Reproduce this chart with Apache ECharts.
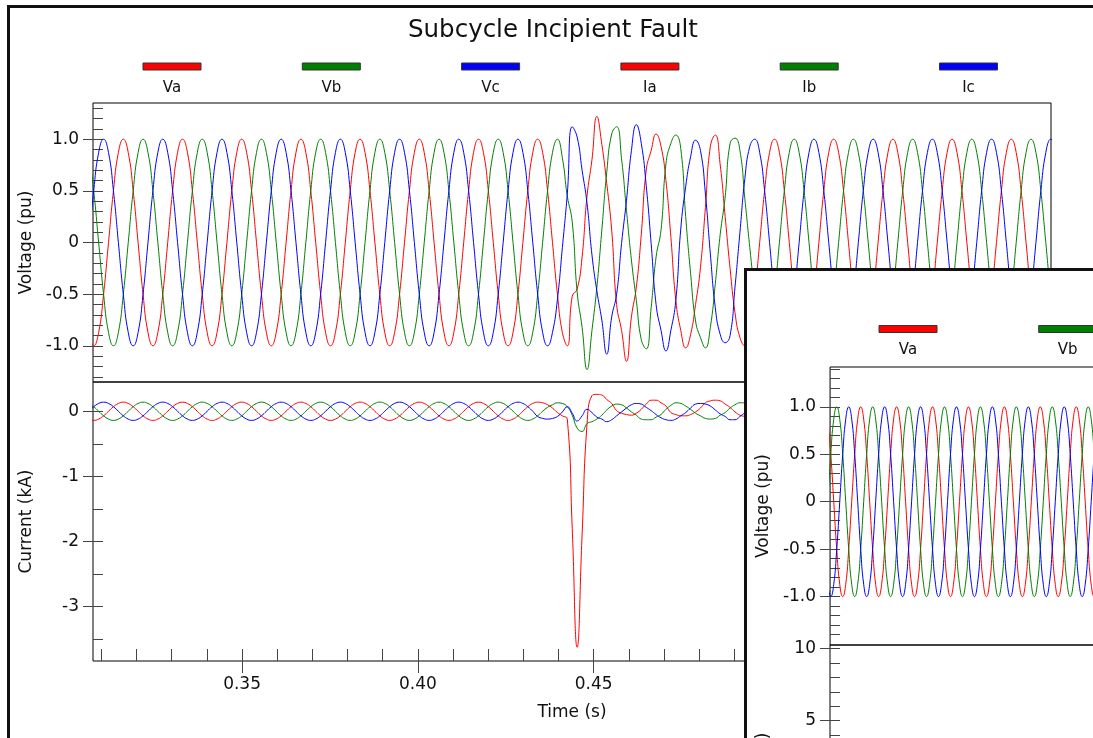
<!DOCTYPE html>
<html>
<head>
<meta charset="utf-8">
<title>Subcycle Incipient Fault</title>
<script src="https://cdn.jsdelivr.net/npm/echarts@6/dist/echarts.min.js"></script>
<style>
  html, body { margin: 0; padding: 0; width: 1093px; height: 738px; overflow: hidden; background: #fff; }
  #c1 { position: absolute; left: 0; top: 0; width: 1093px; height: 738px; }
  #frame1 { position: absolute; left: 7px; top: 5px; width: 1300px; height: 900px;
            border-left: 3px solid #111; border-top: 3px solid #111; pointer-events: none; }
  #w2 { position: absolute; left: 744px; top: 268px; width: 1300px; height: 900px;
        border-left: 3px solid #111; border-top: 3px solid #111; background: #fff; }
  #c2 { position: absolute; left: 0; top: 0; width: 1093px; height: 738px; }
</style>
</head>
<body>
<div id="c1"></div>
<div id="frame1"></div>
<div id="w2"><div id="c2"></div></div>
<script>
// ---------------------------------------------------------------------------
// Recorded quantities
// ---------------------------------------------------------------------------
const seriesNames  = ['Va', 'Vb', 'Vc', 'Ia', 'Ib', 'Ic'];
const seriesColors = ['#ff0000', '#008000', '#0000ff', '#ff0000', '#008000', '#0000ff'];

// recorder sample clock: 12 samples per power cycle
const sampleStep  = 0.0014032;   // s
const sampleStart = 0.3064;      // s, first sample of the main record
const sampleStart2 = -0.00108;   // s, first sample of the second record

// phase voltages (pu), one power cycle per row
const va = [
  -0.87,-1,-0.87,-0.5,0,0.5,0.87,1,0.87,0.5,0,-0.5,
  -0.87,-1,-0.87,-0.5,0,0.5,0.87,1,0.87,0.5,0,-0.5,
  -0.87,-1,-0.87,-0.5,0,0.5,0.87,1,0.87,0.5,0,-0.5,
  -0.87,-1,-0.87,-0.5,0,0.5,0.87,1,0.87,0.5,0,-0.5,
  -0.87,-1,-0.87,-0.5,0,0.5,0.87,1,0.87,0.5,0,-0.5,
  -0.87,-1,-0.87,-0.5,0,0.5,0.87,1,0.87,0.5,0,-0.5,
  -0.87,-1,-0.87,-0.5,0,0.5,0.87,1,0.87,0.5,0,-0.5,
  -0.87,-1,-0.87,-0.5,0,0.5,0.87,1,0.87,0.5,0,-0.5,
  -0.87,-1,-0.52,-0.45,-0.14,0.45,0.8,1.22,0.95,0.57,0.12,-0.6,
  -0.85,-1.15,-0.72,-0.43,0.08,0.7,0.89,1.05,0.93,0.6,0.05,-0.56,
  -0.85,-1.02,-0.89,-0.6,-0.24,0.34,0.93,1.04,0.75,0.25,-0.25,-0.68,
  -0.92,-1,-0.87,-0.5,0,0.5,0.87,1,0.87,0.5,0,-0.5,
  -0.87,-1,-0.87,-0.5,0,0.5,0.87,1,0.87,0.5,0,-0.5,
  -0.87,-1,-0.87,-0.5,0,0.5,0.87,1,0.87,0.5,0,-0.5,
  -0.87,-1,-0.87,-0.5,0,0.5,0.87,1,0.87,0.5,0,-0.5,
  -0.87,-1,-0.87,-0.5,0,0.5,0.87,1,0.87,0.5,0,-0.5,
  -0.87,-1,-0.87,-0.5,0,0.5,0.87,1,0.87,0.5,0,-0.5
];
const vb = [
  0.87,0.5,0,-0.5,-0.87,-1,-0.87,-0.5,0,0.5,0.87,1,
  0.87,0.5,0,-0.5,-0.87,-1,-0.87,-0.5,0,0.5,0.87,1,
  0.87,0.5,0,-0.5,-0.87,-1,-0.87,-0.5,0,0.5,0.87,1,
  0.87,0.5,0,-0.5,-0.87,-1,-0.87,-0.5,0,0.5,0.87,1,
  0.87,0.5,0,-0.5,-0.87,-1,-0.87,-0.5,0,0.5,0.87,1,
  0.87,0.5,0,-0.5,-0.87,-1,-0.87,-0.5,0,0.5,0.87,1,
  0.87,0.5,0,-0.5,-0.87,-1,-0.87,-0.5,0,0.5,0.87,1,
  0.87,0.5,0,-0.5,-0.87,-1,-0.87,-0.5,0,0.5,0.87,1,
  0.82,0.45,0.2,-0.48,-0.82,-1.23,-0.85,-0.43,0.12,0.68,1.05,1.12,
  0.81,0.31,-0.17,-0.56,-0.94,-1.03,-0.63,-0.14,0.12,0.76,0.96,1.04,
  0.91,0.25,-0.3,-0.76,-0.92,-1.02,-0.82,-0.4,0.08,0.44,0.96,1.01,
  0.89,0.42,-0.05,-0.5,-0.87,-1,-0.87,-0.5,0,0.5,0.87,1,
  0.87,0.5,0,-0.5,-0.87,-1,-0.87,-0.5,0,0.5,0.87,1,
  0.87,0.5,0,-0.5,-0.87,-1,-0.87,-0.5,0,0.5,0.87,1,
  0.87,0.5,0,-0.5,-0.87,-1,-0.87,-0.5,0,0.5,0.87,1,
  0.87,0.5,0,-0.5,-0.87,-1,-0.87,-0.5,0,0.5,0.87,1,
  0.87,0.5,0,-0.5,-0.87,-1,-0.87,-0.5,0,0.5,0.87,1
];
const vc = [
  0,0.5,0.87,1,0.87,0.5,0,-0.5,-0.87,-1,-0.87,-0.5,
  0,0.5,0.87,1,0.87,0.5,0,-0.5,-0.87,-1,-0.87,-0.5,
  0,0.5,0.87,1,0.87,0.5,0,-0.5,-0.87,-1,-0.87,-0.5,
  0,0.5,0.87,1,0.87,0.5,0,-0.5,-0.87,-1,-0.87,-0.5,
  0,0.5,0.87,1,0.87,0.5,0,-0.5,-0.87,-1,-0.87,-0.5,
  0,0.5,0.87,1,0.87,0.5,0,-0.5,-0.87,-1,-0.87,-0.5,
  0,0.5,0.87,1,0.87,0.5,0,-0.5,-0.87,-1,-0.87,-0.5,
  0,0.5,0.87,1,0.87,0.5,0,-0.5,-0.87,-1,-0.87,-0.55,
  -0.05,0.47,1.12,1.02,0.7,0.38,-0.12,-0.47,-0.75,-1.08,-0.72,-0.5,
  -0.01,0.41,0.89,1.14,0.96,0.55,-0.01,-0.6,-0.85,-1.05,-0.85,-0.56,
  0.13,0.54,0.83,0.99,0.89,0.47,-0.11,-0.63,-0.89,-0.97,-0.9,-0.43,
  0.1,0.62,0.93,1,0.87,0.5,0,-0.5,-0.87,-1,-0.87,-0.5,
  0,0.5,0.87,1,0.87,0.5,0,-0.5,-0.87,-1,-0.87,-0.5,
  0,0.5,0.87,1,0.87,0.5,0,-0.5,-0.87,-1,-0.87,-0.5,
  0,0.5,0.87,1,0.87,0.5,0,-0.5,-0.87,-1,-0.87,-0.5,
  0,0.5,0.87,1,0.87,0.5,0,-0.5,-0.87,-1,-0.87,-0.5,
  0,0.5,0.87,1,0.87,0.5,0,-0.5,-0.87,-1,-0.87,-0.5
];

// phase currents (kA), one power cycle per row
const ia = [
  -0.12,-0.14,-0.12,-0.07,0,0.07,0.12,0.14,0.12,0.07,0,-0.07,
  -0.12,-0.14,-0.12,-0.07,0,0.07,0.12,0.14,0.12,0.07,0,-0.07,
  -0.12,-0.14,-0.12,-0.07,0,0.07,0.12,0.14,0.12,0.07,0,-0.07,
  -0.12,-0.14,-0.12,-0.07,0,0.07,0.12,0.14,0.12,0.07,0,-0.07,
  -0.12,-0.14,-0.12,-0.07,0,0.07,0.12,0.14,0.12,0.07,0,-0.07,
  -0.12,-0.14,-0.12,-0.07,0,0.07,0.12,0.14,0.12,0.07,0,-0.07,
  -0.12,-0.14,-0.12,-0.07,0,0.07,0.12,0.14,0.12,0.07,0,-0.07,
  -0.12,-0.14,-0.12,-0.07,0,0.07,0.12,0.14,0.13,0.1,0.05,-0.02,
  -0.07,-0.12,-1.8,-3.63,-1.9,-0.2,0.24,0.26,0.25,0.18,0.12,0.01,
  -0.03,-0.05,-0.06,-0.03,0.03,0.11,0.17,0.17,0.13,0.08,-0.02,-0.05,
  -0.07,-0.07,-0.05,-0.01,0.05,0.13,0.16,0.17,0.16,0.11,0.06,-0.01,
  -0.06,-0.08,-0.1,-0.1,-0.07,-0.02,0.04,0.1,0.14,0.15,0.13,0.08,
  0.02,-0.04,-0.09,-0.12,-0.13,-0.11,-0.06,0,0.07,0.12,0.14,0.13
];
const ib = [
  0.12,0.07,0,-0.07,-0.12,-0.14,-0.12,-0.07,0,0.07,0.12,0.14,
  0.12,0.07,0,-0.07,-0.12,-0.14,-0.12,-0.07,0,0.07,0.12,0.14,
  0.12,0.07,0,-0.07,-0.12,-0.14,-0.12,-0.07,0,0.07,0.12,0.14,
  0.12,0.07,0,-0.07,-0.12,-0.14,-0.12,-0.07,0,0.07,0.12,0.14,
  0.12,0.07,0,-0.07,-0.12,-0.14,-0.12,-0.07,0,0.07,0.12,0.14,
  0.12,0.07,0,-0.07,-0.12,-0.14,-0.12,-0.07,0,0.07,0.12,0.14,
  0.12,0.07,0,-0.07,-0.12,-0.14,-0.12,-0.07,0,0.07,0.12,0.14,
  0.12,0.07,0,-0.07,-0.12,-0.14,-0.12,-0.07,0,0.06,0.1,0.13,
  0.12,0.07,-0.06,-0.26,-0.31,-0.19,-0.16,-0.12,-0.06,0.02,0.08,0.11,
  0.1,0.05,-0.01,-0.06,-0.12,-0.13,-0.13,-0.09,-0.05,0.03,0.09,0.13,
  0.12,0.08,0.03,-0.03,-0.07,-0.11,-0.12,-0.11,-0.06,-0.02,0.05,0.1,
  0.13,0.13,0.12,0.07,0,-0.06,-0.11,-0.13,-0.13,-0.1,-0.05,0.02,
  0.08,0.12,0.13,0.12,0.07,0.01,-0.05,-0.1,-0.13,-0.13,-0.1,-0.04
];
const ic = [
  0,0.07,0.12,0.14,0.12,0.07,0,-0.07,-0.12,-0.14,-0.12,-0.07,
  0,0.07,0.12,0.14,0.12,0.07,0,-0.07,-0.12,-0.14,-0.12,-0.07,
  0,0.07,0.12,0.14,0.12,0.07,0,-0.07,-0.12,-0.14,-0.12,-0.07,
  0,0.07,0.12,0.14,0.12,0.07,0,-0.07,-0.12,-0.14,-0.12,-0.07,
  0,0.07,0.12,0.14,0.12,0.07,0,-0.07,-0.12,-0.14,-0.12,-0.07,
  0,0.07,0.12,0.14,0.12,0.07,0,-0.07,-0.12,-0.14,-0.12,-0.07,
  0,0.07,0.12,0.14,0.12,0.07,0,-0.07,-0.12,-0.14,-0.12,-0.07,
  0,0.07,0.12,0.14,0.12,0.07,0,-0.08,-0.11,-0.12,-0.11,-0.08,
  -0.01,0.07,-0.03,-0.15,-0.07,0.03,-0.02,-0.09,-0.12,-0.16,-0.13,-0.07,
  -0.01,0.05,0.1,0.12,0.11,0.06,0.01,-0.05,-0.1,-0.13,-0.14,-0.12,
  -0.07,-0.02,0.05,0.11,0.12,0.11,0.08,0.02,-0.04,-0.08,-0.13,-0.13,
  -0.08,-0.02,0.04,0.09,0.12,0.13,0.11,0.07,0.01,-0.05,-0.1,-0.13,
  -0.13,-0.1,-0.05,0.01,0.07,0.12,0.13,0.12,0.07,0.01,-0.05,-0.1
];

// second record: phase voltages (pu)
const va2 = [
  0.87,0.5,0,-0.5,-0.87,-1,-0.87,-0.5,0,0.5,0.87,1,
  0.87,0.5,0,-0.5,-0.87,-1,-0.87,-0.5,0,0.5,0.87,1,
  0.87,0.5,0,-0.5,-0.87,-1,-0.87,-0.5,0,0.5,0.87,1,
  0.87,0.5,0,-0.5,-0.87,-1,-0.87,-0.5,0,0.5,0.87,1,
  0.87,0.5,0,-0.5,-0.87,-1,-0.87,-0.5,0,0.5,0.87,1,
  0.87,0.5,0,-0.5,-0.87,-1,-0.87,-0.5,0,0.5,0.87,1,
  0.87,0.5,0,-0.5,-0.87,-1,-0.87,-0.5,0,0.5,0.87,1,
  0.87,0.5,0,-0.5,-0.87,-1,-0.87,-0.5,0,0.5,0.87,1
];
const vb2 = [
  0,0.5,0.87,1,0.87,0.5,0,-0.5,-0.87,-1,-0.87,-0.5,
  0,0.5,0.87,1,0.87,0.5,0,-0.5,-0.87,-1,-0.87,-0.5,
  0,0.5,0.87,1,0.87,0.5,0,-0.5,-0.87,-1,-0.87,-0.5,
  0,0.5,0.87,1,0.87,0.5,0,-0.5,-0.87,-1,-0.87,-0.5,
  0,0.5,0.87,1,0.87,0.5,0,-0.5,-0.87,-1,-0.87,-0.5,
  0,0.5,0.87,1,0.87,0.5,0,-0.5,-0.87,-1,-0.87,-0.5,
  0,0.5,0.87,1,0.87,0.5,0,-0.5,-0.87,-1,-0.87,-0.5,
  0,0.5,0.87,1,0.87,0.5,0,-0.5,-0.87,-1,-0.87,-0.5
];
const vc2 = [
  -0.87,-1,-0.87,-0.5,0,0.5,0.87,1,0.87,0.5,0,-0.5,
  -0.87,-1,-0.87,-0.5,0,0.5,0.87,1,0.87,0.5,0,-0.5,
  -0.87,-1,-0.87,-0.5,0,0.5,0.87,1,0.87,0.5,0,-0.5,
  -0.87,-1,-0.87,-0.5,0,0.5,0.87,1,0.87,0.5,0,-0.5,
  -0.87,-1,-0.87,-0.5,0,0.5,0.87,1,0.87,0.5,0,-0.5,
  -0.87,-1,-0.87,-0.5,0,0.5,0.87,1,0.87,0.5,0,-0.5,
  -0.87,-1,-0.87,-0.5,0,0.5,0.87,1,0.87,0.5,0,-0.5,
  -0.87,-1,-0.87,-0.5,0,0.5,0.87,1,0.87,0.5,0,-0.5
];

// axis extents and ticks
const timeRange  = [0.3076, 0.5801];
const timeTicks  = [0.35, 0.40, 0.45, 0.50, 0.55];
const timeLabels = ['0.35', '0.40', '0.45', '0.50', '0.55'];
const timeMinor  = [0.31,0.32,0.33,0.34,0.35,0.36,0.37,0.38,0.39,0.40,0.41,0.42,0.43,0.44,
                    0.45,0.46,0.47,0.48,0.49,0.50,0.51,0.52,0.53,0.54,0.55,0.56,0.57,0.58];
const voltRange  = [-1.35, 1.35];
const voltTicks  = [-1, -0.5, 0, 0.5, 1];
const voltLabels = ['-1.0', '-0.5', '0', '0.5', '1.0'];
const voltMinor  = [-1.3,-1.2,-1.1,-1,-0.9,-0.8,-0.7,-0.6,-0.5,-0.4,-0.3,-0.2,-0.1,0,
                    0.1,0.2,0.3,0.4,0.5,0.6,0.7,0.8,0.9,1,1.1,1.2,1.3];
const currRange  = [-3.84, 0.45];
const currTicks  = [-3, -2, -1, 0];
const currLabels = ['-3', '-2', '-1', '0'];
const currMinor  = [-3.5,-3,-2.5,-2,-1.5,-1,-0.5,0];

const timeRange2  = [0, 0.4481];
const timeTicks2  = [0.1, 0.2, 0.3, 0.4];
const timeLabels2 = ['0.10', '0.20', '0.30', '0.40'];
const voltRange2  = [-1.51, 1.42];
const voltMinor2  = [-1.4,-1.3,-1.2,-1.1,-1,-0.9,-0.8,-0.7,-0.6,-0.5,-0.4,-0.3,-0.2,-0.1,0,
                     0.1,0.2,0.3,0.4,0.5,0.6,0.7,0.8,0.9,1,1.1,1.2,1.3,1.4];
const currRange2  = [-9.04, 10.23];
const currTicks2  = [-5, 0, 5, 10];
const currLabels2 = ['-5', '0', '5', '10'];
const currMinor2  = [-9,-8,-7,-6,-5,-4,-3,-2,-1,0,1,2,3,4,5,6,7,8,9,10];

// ---------------------------------------------------------------------------
// Styling helpers
// ---------------------------------------------------------------------------
const FONT = '"DejaVu Sans", Verdana, sans-serif';
const INK = '#111';
const TICK = '#444';

function pairs(values, start) {
  return values.map((v, k) => [start + k * sampleStep, v]);
}
function labelFor(values, labels) {
  return function (v) {
    for (let i = 0; i < values.length; i++) {
      if (Math.abs(values[i] - v) < 1e-9) return labels[i];
    }
    return '';
  };
}
// axis carrying the labels and the outer half of the major ticks
function labelledAxis(gridIndex, range, ticks, labels, tickLen, margin, extra) {
  return Object.assign({
    gridIndex: gridIndex, type: 'value', min: range[0], max: range[1],
    axisLine: { show: false, onZero: false }, splitLine: { show: false },
    axisTick: { show: true, inside: false, length: tickLen, customValues: ticks,
                lineStyle: { color: TICK, width: 1 } },
    axisLabel: { show: true, customValues: ticks, formatter: labelFor(ticks, labels),
                 margin: margin, color: INK, fontSize: 17, fontFamily: FONT },
    nameTextStyle: { color: INK, fontSize: 17, fontFamily: FONT }
  }, extra || {});
}
// overlay axis carrying the inward ticks
function tickAxis(gridIndex, range, ticks, tickLen, position) {
  return {
    gridIndex: gridIndex, type: 'value', min: range[0], max: range[1], position: position,
    axisLine: { show: false, onZero: false }, splitLine: { show: false }, axisLabel: { show: false },
    axisTick: { show: true, inside: true, length: tickLen, customValues: ticks,
                lineStyle: { color: TICK, width: 1 } }
  };
}
function legendGraphic(x0, step, rectY, textY) {
  return seriesNames.map((n, i) => ({
    type: 'group', x: x0 + i * step, y: 0, silent: true,
    children: [
      { type: 'rect', shape: { x: -29, y: rectY, width: 58, height: 7 },
        style: { fill: seriesColors[i], stroke: '#333', lineWidth: 1 } },
      { type: 'text', x: 0, y: textY,
        style: { text: n, font: '15px ' + FONT, fill: INK,
                 align: 'center', verticalAlign: 'middle',
                 textAlign: 'center', textVerticalAlign: 'middle' } }
    ]
  }));
}
function lineSeries(name, color, data, xi, yi) {
  return {
    name: name, type: 'line', xAxisIndex: xi, yAxisIndex: yi, data: data,
    showSymbol: false, symbol: 'none', smooth: 0.5, silent: true,
    lineStyle: { color: color, width: 1 }, itemStyle: { color: color }
  };
}
const gridBox = { show: true, borderColor: '#000', borderWidth: 1, backgroundColor: 'transparent' };
const hiddenX = (gi, range) => ({ gridIndex: gi, type: 'value', min: range[0], max: range[1], show: false,
                                  axisLine: { onZero: false } });

// ---------------------------------------------------------------------------
// Main record: voltages above, currents below
// ---------------------------------------------------------------------------
const chart1 = echarts.init(document.getElementById('c1'), null, { renderer: 'canvas' });
chart1.setOption({
  animation: false,
  backgroundColor: 'transparent',
  textStyle: { fontFamily: FONT },
  graphic: [
    { type: 'text', x: 553, y: 31, silent: true,
      style: { text: 'Subcycle Incipient Fault', font: '24.5px ' + FONT, fill: INK,
               align: 'center', verticalAlign: 'middle',
               textAlign: 'center', textVerticalAlign: 'middle' } }
  ].concat(legendGraphic(172, 159.3, 63, 88)),
  grid: [
    Object.assign({ left: 93, top: 103, width: 958, height: 279 }, gridBox),
    Object.assign({ left: 93, top: 382, width: 958, height: 279 }, gridBox)
  ],
  xAxis: [
    hiddenX(0, timeRange),
    labelledAxis(1, timeRange, timeTicks, timeLabels, 12, 15,
                 { position: 'bottom', name: 'Time (s)', nameLocation: 'middle', nameGap: 43 }),
    tickAxis(1, timeRange, timeMinor, 12, 'bottom')
  ],
  yAxis: [
    labelledAxis(0, voltRange, voltTicks, voltLabels, 10, 14,
                 { position: 'left', name: 'Voltage (pu)', nameLocation: 'middle', nameGap: 58 }),
    tickAxis(0, voltRange, voltMinor, 10, 'left'),
    labelledAxis(1, currRange, currTicks, currLabels, 10, 14,
                 { position: 'left', name: 'Current (kA)', nameLocation: 'middle', nameGap: 58 }),
    tickAxis(1, currRange, currMinor, 10, 'left')
  ],
  series: [
    lineSeries('Va', seriesColors[0], pairs(va, sampleStart), 0, 0),
    lineSeries('Vb', seriesColors[1], pairs(vb, sampleStart), 0, 0),
    lineSeries('Vc', seriesColors[2], pairs(vc, sampleStart), 0, 0),
    lineSeries('Ia', seriesColors[3], pairs(ia, sampleStart), 1, 2),
    lineSeries('Ib', seriesColors[4], pairs(ib, sampleStart), 1, 2),
    lineSeries('Ic', seriesColors[5], pairs(ic, sampleStart), 1, 2)
  ]
});

// ---------------------------------------------------------------------------
// Second record window (overlapping, lower right)
// ---------------------------------------------------------------------------
const chart2 = echarts.init(document.getElementById('c2'), null, { renderer: 'canvas' });
chart2.setOption({
  animation: false,
  backgroundColor: '#fff',
  textStyle: { fontFamily: FONT },
  graphic: legendGraphic(161, 159.7, 54.5, 79),
  grid: [
    Object.assign({ left: 81, top: 96, width: 958, height: 278 }, gridBox),
    Object.assign({ left: 81, top: 374, width: 958, height: 279 }, gridBox)
  ],
  xAxis: [
    hiddenX(0, timeRange2),
    labelledAxis(1, timeRange2, timeTicks2, timeLabels2, 12, 15,
                 { position: 'bottom', name: 'Time (s)', nameLocation: 'middle', nameGap: 43 })
  ],
  yAxis: [
    labelledAxis(0, voltRange2, voltTicks, voltLabels, 10, 14,
                 { position: 'left', name: 'Voltage (pu)', nameLocation: 'middle', nameGap: 58 }),
    tickAxis(0, voltRange2, voltMinor2, 10, 'left'),
    labelledAxis(1, currRange2, currTicks2, currLabels2, 10, 14,
                 { position: 'left', name: 'Current (kA)', nameLocation: 'middle', nameGap: 58 }),
    tickAxis(1, currRange2, currMinor2, 10, 'left')
  ],
  series: [
    lineSeries('Va', seriesColors[0], pairs(va2, sampleStart2), 0, 0),
    lineSeries('Vb', seriesColors[1], pairs(vb2, sampleStart2), 0, 0),
    lineSeries('Vc', seriesColors[2], pairs(vc2, sampleStart2), 0, 0)
  ]
});
</script>
</body>
</html>
